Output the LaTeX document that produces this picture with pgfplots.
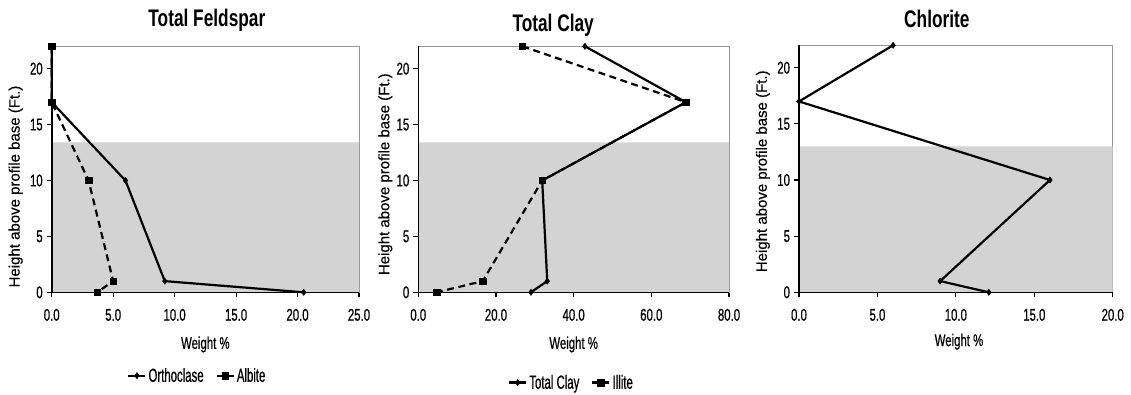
\documentclass[border=0pt]{standalone}
\usepackage{pgfplots}
\pgfplotsset{compat=1.18}
\usepackage{fontspec}
\setmainfont{Liberation Sans}
\newfontfamily\narrow{Liberation Sans}[FakeStretch=0.67, FakeBold=0.6]
\newfontfamily\titlefont{Liberation Sans}[FakeStretch=0.72]
\newfontfamily\legfont{Liberation Sans}[FakeStretch=0.6, FakeBold=0.6]
\newfontfamily\labfont{Liberation Sans}[FakeBold=0.4]

\definecolor{shade}{RGB}{211,211,211}
\definecolor{frame}{RGB}{150,150,150}

\pgfplotsset{
  profile/.style={
    scale only axis,
    height=246pt,
    ymin=0, ymax=22,
    xmin=0,
    clip=false,
    axis line style={frame, line width=1pt},
    ytick={0,5,10,15,20},
    tick align=outside,
    major tick length=5pt,
    every tick/.style={black, line width=1.1pt},
    xtick pos=bottom, ytick pos=left,
    /pgf/number format/assume math mode=true,
    xticklabel={\pgfmathprintnumber[fixed,fixed zerofill,precision=1]{\tick}},
    ticklabel style={font=\narrow\fontsize{17}{19}\selectfont},
    xticklabel style={yshift=-8pt},
    yticklabel style={xshift=-0.5pt},
    xlabel={Weight \%},
    xlabel style={font=\narrow\fontsize{17}{19}\selectfont, anchor=center},
    ylabel={Height above profile base (Ft.)},
    ylabel style={font=\labfont\fontsize{15}{17}\selectfont, rotate=0, anchor=center},
    title style={font=\titlefont\bfseries\fontsize{24}{28}\selectfont, anchor=base},
    legend columns=2,
    legend style={draw=none, fill=none, font=\legfont\fontsize{19}{21}\selectfont,
      anchor=center, /tikz/every even column/.append style={column sep=10pt},
      inner sep=0pt},
    legend image code/.code={
      \draw[#1, mark repeat=2, mark phase=2]
        plot coordinates {(0pt,0pt) (8.5pt,0pt) (17pt,0pt)};},
  },
  solidser/.style={black, line width=2.2pt, mark=diamond*, mark size=3pt,
    mark options={solid, line width=0.6pt}},
  dashser/.style={black, line width=2.2pt, dash pattern=on 7pt off 4.5pt,
    mark=square*, mark size=3.3pt, mark options={solid, line width=0.6pt}},
  band/.style={fill=shade, draw=none, forget plot},
}

\begin{document}
\begin{tikzpicture}
\path[use as bounding box] (0,0) rectangle (1131pt,394pt);

% ---- Total Feldspar ----
\begin{axis}[profile,
  at={(51.7pt,101.7pt)}, anchor=south west,
  width=307.3pt, xmax=25, xtick={0,5,10,15,20,25},
  title={Total Feldspar},
  title style={at={(axis description cs:0.5,1)}, yshift=14pt, xshift=1.5pt},
  xlabel style={at={(axis description cs:0.5,-0.212)}},
  ylabel style={at={(axis description cs:-0.117,0.43)}},
  legend style={at={(axis description cs:0.474,-0.339)}},
]
\addplot[band] coordinates {(0,0) (25,0) (25,13.4) (0,13.4)} \closedcycle;
\addplot[solidser] coordinates {(0,22) (0,17) (6.0,10) (9.2,1) (20.5,0)};
\addplot[dashser] coordinates {(0,22) (0,17) (3.0,10) (5.0,1) (3.7,0)};
\draw[black, line width=1.6pt] (rel axis cs:0,1) -- (rel axis cs:0,0) -- (rel axis cs:1,0);
\legend{Orthoclase, Albite}
\end{axis}

% ---- Total Clay ----
\begin{axis}[profile,
  at={(418.3pt,101.7pt)}, anchor=south west,
  width=310.7pt, xmax=80, xtick={0,20,40,60,80},
  title={Total Clay},
  title style={at={(axis description cs:0.5,1)}, yshift=9pt, xshift=-20.5pt},
  xlabel style={at={(axis description cs:0.5,-0.212)}},
  ylabel style={at={(axis description cs:-0.106,0.48)}},
  legend style={at={(axis description cs:0.493,-0.367)}},
]
\addplot[band] coordinates {(0,0) (80,0) (80,13.4) (0,13.4)} \closedcycle;
\addplot[solidser] coordinates {(42.9,22) (68.9,17) (31.9,10) (33.2,1) (29.0,0)};
\addplot[dashser] coordinates {(26.8,22) (68.9,17) (31.9,10) (16.6,1) (4.7,0)};
\draw[black, line width=1.6pt] (rel axis cs:0,1) -- (rel axis cs:0,0) -- (rel axis cs:1,0);
\legend{Total Clay, Illite}
\end{axis}

% ---- Chlorite ----
\begin{axis}[profile,
  at={(799pt,101.7pt)}, anchor=south west,
  width=313.7pt, height=247pt, xmax=20, xtick={0,5,10,15,20},
  title={Chlorite},
  title style={at={(axis description cs:0.5,1)}, yshift=12pt, xshift=-19pt},
  xlabel style={at={(axis description cs:0.51,-0.2)}},
  ylabel style={at={(axis description cs:-0.115,0.49)}},
]
\addplot[band] coordinates {(0,0) (20,0) (20,13.0) (0,13.0)} \closedcycle;
\addplot[solidser] coordinates {(6.0,22) (0,17) (16.0,10) (9.0,1) (12.1,0)};
\draw[black, line width=1.6pt] (rel axis cs:0,1) -- (rel axis cs:0,0) -- (rel axis cs:1,0);
\end{axis}
\end{tikzpicture}
\end{document}
